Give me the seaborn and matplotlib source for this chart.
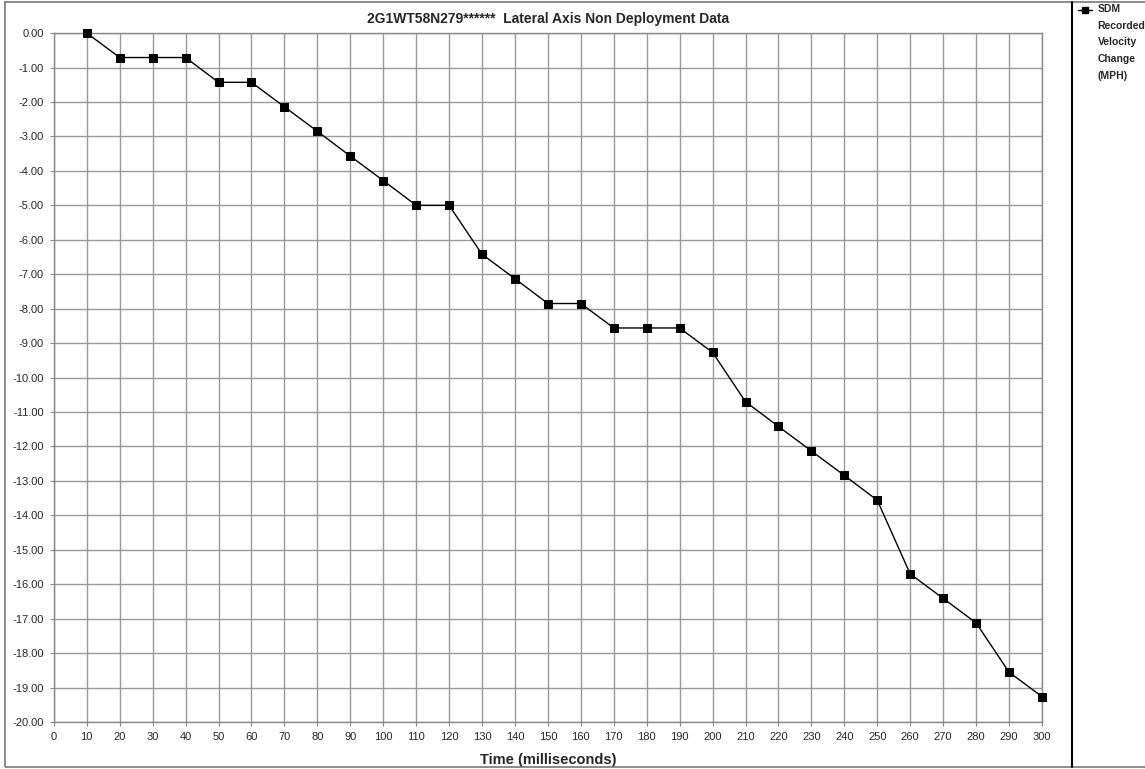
import numpy as np
import matplotlib
matplotlib.use("Agg")
import matplotlib.pyplot as plt
from matplotlib.patches import Rectangle
from matplotlib.lines import Line2D
import pandas as pd
import seaborn as sns

sns.set_style("white")
plt.rcParams['font.family'] = ['Liberation Sans', 'DejaVu Sans']

# data
time_ms = [10, 20, 30, 40, 50, 60, 70, 80, 90, 100, 110, 120, 130, 140, 150,
           160, 170, 180, 190, 200, 210, 220, 230, 240, 250, 260, 270, 280, 290, 300]
velocity = [0.00, -0.71, -0.71, -0.71, -1.43, -1.43, -2.14, -2.85, -3.57, -4.28,
            -5.00, -5.00, -6.42, -7.13, -7.85, -7.85, -8.56, -8.56, -8.56, -9.27,
            -10.70, -11.42, -12.13, -12.84, -13.56, -15.70, -16.41, -17.12, -18.55, -19.26]
x_ticks = list(range(0, 301, 10))
y_ticks = list(range(0, -21, -1))

df = pd.DataFrame({'Time': time_ms, 'Velocity': velocity})

fig = plt.figure(figsize=(11.45, 7.69), dpi=100)
ax = fig.add_axes([0.047, 0.061, 0.863, 0.896])

sns.lineplot(data=df, x='Time', y='Velocity', ax=ax, color='black', linewidth=1,
             marker='s', markersize=6, markeredgecolor='black', markerfacecolor='black',
             clip_on=False, zorder=5)

ax.set_xlim(0, 300)
ax.set_ylim(-20, 0)
ax.set_xticks(x_ticks)
ax.set_yticks(y_ticks)
ax.set_yticklabels([f"{v:.2f}" for v in y_ticks])
ax.tick_params(axis='both', labelsize=8, length=3, color='#888888', direction='out', pad=4)
ax.tick_params(axis='x', bottom=True)
ax.tick_params(axis='y', left=True)
ax.grid(True, color='#999999', linewidth=1)
for s in ax.spines.values():
    s.set_color('#888888')
    s.set_linewidth(1)

ax.set_xlabel('Time (milliseconds)', fontsize=10.5, fontweight='bold', labelpad=8)
ax.set_ylabel('')
ax.set_title('2G1WT58N279******  Lateral Axis Non Deployment Data', fontsize=10,
             fontweight='bold', pad=7)

# figure frame and legend separator
fig.patches.append(Rectangle((0.004, 0.003), 1.2, 0.995, transform=fig.transFigure,
                             fill=False, edgecolor='#777777', linewidth=1.2))
fig.add_artist(Line2D([0.9365, 0.9365], [0.003, 0.998], transform=fig.transFigure,
                      color='black', linewidth=1.5))

# legend
fig.add_artist(Line2D([0.9415, 0.9540], [0.987, 0.987], transform=fig.transFigure,
                      color='black', linewidth=1))
fig.add_artist(Line2D([0.9478], [0.987], transform=fig.transFigure, color='black',
                      marker='s', markersize=5, linestyle='none'))
fig.text(0.9585, 0.995, 'SDM\nRecorded\nVelocity\nChange\n(MPH)', fontsize=7.5,
         fontweight='bold', va='top', ha='left', linespacing=1.85)

fig.savefig('out.png', dpi=100)
